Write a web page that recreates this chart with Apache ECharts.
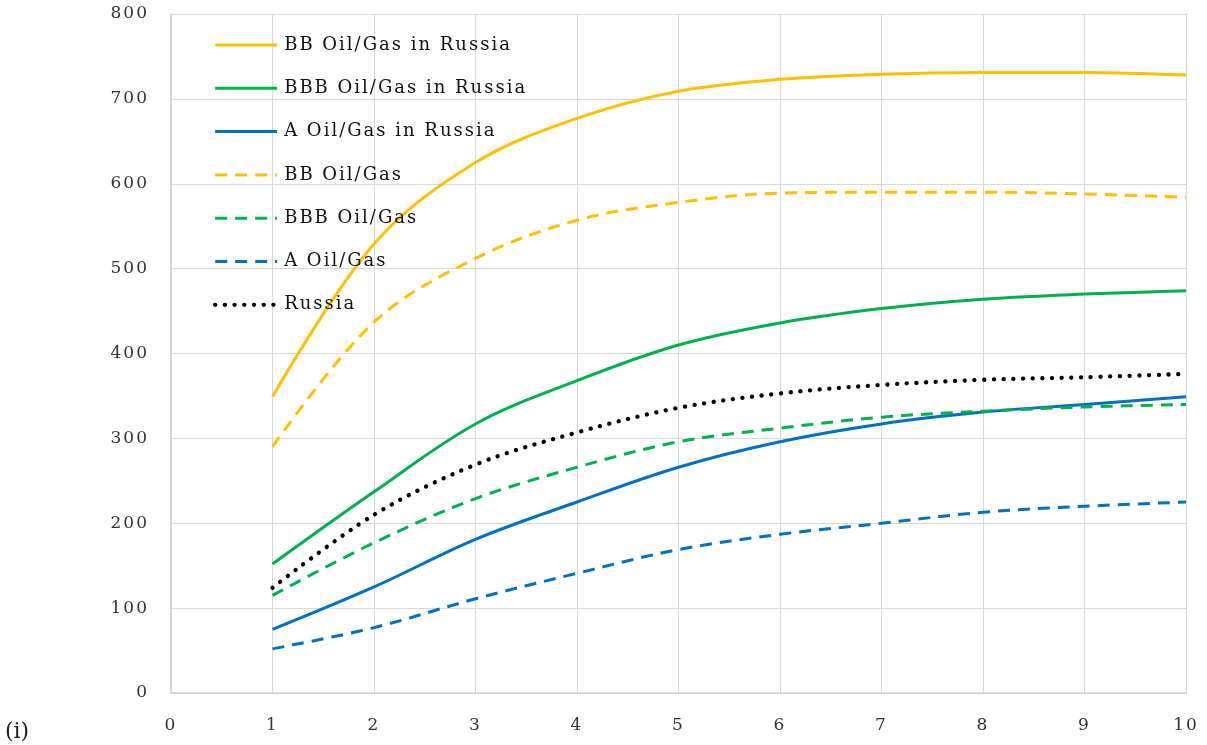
<!DOCTYPE html>
<html>
<head>
<meta charset="utf-8">
<script src="https://cdn.jsdelivr.net/npm/echarts@6/dist/echarts.min.js"></script>
<style>
html,body{margin:0;padding:0;background:#fff;}
#chart{width:1207px;height:745px;}
</style>
</head>
<body>
<div id="chart"></div>
<script>
var xValues = [1, 2, 3, 4, 5, 6, 7, 8, 9, 10];
var seriesNames = ['BB Oil/Gas in Russia', 'BBB Oil/Gas in Russia', 'A Oil/Gas in Russia', 'BB Oil/Gas', 'BBB Oil/Gas', 'A Oil/Gas', 'Russia'];
var bbRussia  = [349, 529, 625, 677, 709, 723, 729, 731, 731, 728];
var bbbRussia = [152, 237, 317, 368, 410, 436, 453, 464, 470, 474];
var aRussia   = [75, 125, 181, 225, 266, 296, 317, 331, 340, 349];
var bbOil     = [290, 437, 512, 557, 578, 589, 590, 590, 588, 584];
var bbbOil    = [115, 177, 229, 266, 296, 312, 325, 332, 337, 340];
var aOil      = [52, 77, 111, 141, 169, 187, 200, 213, 220, 225];
var russia    = [124, 210, 269, 307, 336, 353, 363, 369, 372, 376];

// letter-spaced text rendering (reference uses spaced serif glyphs)
(function(){
  var P = CanvasRenderingContext2D.prototype;
  if (!('letterSpacing' in P)) return;
  ['fillText','strokeText','measureText'].forEach(function(fn){
    var orig = P[fn];
    P[fn] = function(){
      this.letterSpacing = /Serif/.test(this.font) && !/22px/.test(this.font) ? '2px' : '0px';
      return orig.apply(this, arguments);
    };
  });
})();

var FONT = 'DejaVu Serif';
function pairs(arr){ return xValues.map(function(x,i){ return [x, arr[i]]; }); }
var styles = [
  { color: '#FFC000', type: 'solid', width: 3, cap: 'butt' },
  { color: '#00B050', type: 'solid', width: 3, cap: 'butt' },
  { color: '#0070C0', type: 'solid', width: 3, cap: 'butt' },
  { color: '#FFC000', type: [12, 8], width: 3, cap: 'butt' },
  { color: '#00B050', type: [12, 8], width: 3, cap: 'butt' },
  { color: '#0070C0', type: [12, 8], width: 3, cap: 'butt' },
  { color: '#000000', type: [0.1, 9.6], width: 4.3, cap: 'round' }
];
var seriesData = [bbRussia, bbbRussia, aRussia, bbOil, bbbOil, aOil, russia];

var chart = echarts.init(document.getElementById('chart'));
chart.setOption({
  animation: false,
  backgroundColor: '#fff',
  grid: { left: 171, right: 21, top: 14, bottom: 52 },
  legend: {
    orient: 'vertical', left: 208, top: 30,
    itemWidth: 62, itemHeight: 20, itemGap: 23.3,
    itemStyle: { opacity: 0 },
    data: seriesNames.map(function(n, i){
      var s = styles[i];
      return { name: n, itemStyle: { opacity: 0 },
        lineStyle: { color: s.color, width: s.width, type: s.type, cap: s.cap } };
    }),
    textStyle: { fontFamily: FONT, fontSize: 18, color: '#111111', padding: [0,0,0,2] }
  },
  xAxis: {
    type: 'value', min: 0, max: 10, interval: 1,
    axisLine: { show: true, lineStyle: { color: '#d0d0d0', width: 1.5 } },
    axisTick: { show: false },
    splitLine: { show: true, lineStyle: { color: '#d9d9d9', width: 1 } },
    axisLabel: { fontFamily: FONT, fontSize: 17, color: '#333333', margin: 23 }
  },
  yAxis: {
    type: 'value', min: 0, max: 800, interval: 100,
    axisLine: { show: true, lineStyle: { color: '#d0d0d0', width: 1.5 } },
    axisTick: { show: false },
    splitLine: { show: true, lineStyle: { color: '#d9d9d9', width: 1 } },
    axisLabel: { fontFamily: FONT, fontSize: 17, color: '#333333', margin: 22 }
  },
  graphic: [{
    type: 'text', left: 5, top: 721,
    style: { text: '(i)', fontFamily: FONT, fontSize: 22, fill: '#222' }
  }],
  series: seriesNames.map(function(n, i){
    var s = styles[i];
    return {
      name: n, type: 'line', data: pairs(seriesData[i]), smooth: 0.35,
      symbol: 'none', showSymbol: false,
      lineStyle: { color: s.color, width: s.width, type: s.type, cap: s.cap },
      itemStyle: { color: s.color }
    };
  })
});
</script>
</body>
</html>
